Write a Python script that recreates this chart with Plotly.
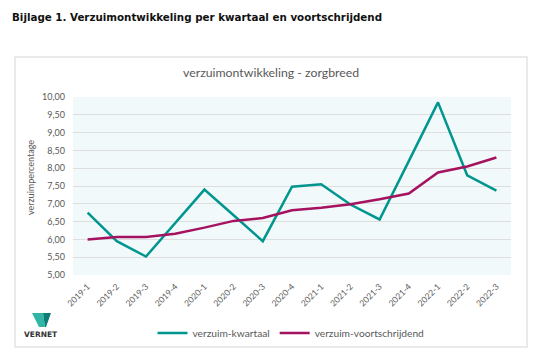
import plotly.graph_objects as go

categories = ["2019-1", "2019-2", "2019-3", "2019-4", "2020-1", "2020-2", "2020-3", "2020-4",
              "2021-1", "2021-2", "2021-3", "2021-4", "2022-1", "2022-2", "2022-3"]
kwartaal = [6.75, 5.95, 5.52, 6.45, 7.40, 6.68, 5.95, 7.48, 7.55, 6.98, 6.56, 8.20, 9.85, 7.80, 7.37]
voortschrijdend = [6.00, 6.07, 6.07, 6.16, 6.33, 6.52, 6.60, 6.82, 6.89, 6.99, 7.13, 7.29, 7.88, 8.05, 8.30]
y_ticks = [5.0, 5.5, 6.0, 6.5, 7.0, 7.5, 8.0, 8.5, 9.0, 9.5, 10.0]

OFF = 8  # page body margin
W, H = 545 - OFF, 355 - OFF
# plot area in reference (window) pixel coords
L, R, T, B = 73, 511, 97, 275


def px(x):
    return (x - L) / (R - L)


def py(y):
    return (B - y) / (B - T)


FONT = "Lato"
GRAY = "#595959"

fig = go.Figure()
fig.add_trace(go.Scatter(x=categories, y=kwartaal, mode="lines", name="verzuim-kwartaal",
                         line=dict(color="#00968f", width=2.5)))
fig.add_trace(go.Scatter(x=categories, y=voortschrijdend, mode="lines", name="verzuim-voortschrijdend",
                         line=dict(color="#a5125f", width=2.5)))

shapes = [
    # chart frame
    dict(type="rect", xref="paper", yref="paper", x0=px(15), x1=px(527), y0=py(347), y1=py(57),
         line=dict(color="#e3e3e3", width=1.5), fillcolor="rgba(0,0,0,0)", layer="below"),
    # logo
    dict(type="path", xref="paper", yref="paper",
         path=f"M {px(32)},{py(313)} L {px(43)},{py(313)} L {px(45)},{py(327)} L {px(39)},{py(327)} Z",
         fillcolor="#2fb6a4", line=dict(width=0)),
    dict(type="path", xref="paper", yref="paper",
         path=f"M {px(43)},{py(313)} L {px(51)},{py(313)} L {px(46)},{py(327)} L {px(45)},{py(327)} Z",
         fillcolor="#0d7d78", line=dict(width=0)),
]

annotations = [
    dict(text="<b>Bijlage 1. Verzuimontwikkeling per kwartaal en voortschrijdend</b>",
         x=px(10), y=py(17), xref="paper", yref="paper", xanchor="left", yanchor="middle",
         showarrow=False, font=dict(family="DejaVu Sans", size=10.3, color="#111111")),
    dict(text="verzuimontwikkeling - zorgbreed", x=px(271), y=py(73), xref="paper", yref="paper",
         xanchor="center", yanchor="middle", showarrow=False,
         font=dict(family=FONT, size=12.3, color=GRAY)),
    dict(text="verzuimpercentage", x=px(30), y=py(178), xref="paper", yref="paper",
         xanchor="center", yanchor="middle", textangle=-90, showarrow=False,
         font=dict(family=FONT, size=9, color=GRAY)),
    dict(text="<b>VERNET</b>", x=px(41), y=py(334), xref="paper", yref="paper",
         xanchor="center", yanchor="middle", showarrow=False,
         font=dict(family="DejaVu Sans", size=7.5, color="#333333")),
]

fig.update_layout(
    width=W, height=H,
    margin=dict(l=L - OFF, r=W - (R - OFF), t=T - OFF, b=H - (B - OFF), autoexpand=False),
    paper_bgcolor="white", plot_bgcolor="#f1f9fb",
    separators=",.",
    font=dict(family=FONT, color=GRAY),
    showlegend=True,
    legend=dict(orientation="h", x=px(291), xanchor="center", y=py(333), yanchor="middle",
                font=dict(family=FONT, size=10.2, color=GRAY), bgcolor="rgba(0,0,0,0)",
                itemwidth=30, tracegroupgap=0),
    shapes=shapes, annotations=annotations,
    xaxis=dict(type="category", range=[-0.5, len(categories) - 0.5], tickangle=-45,
               tickfont=dict(size=8.5, color=GRAY),
               showgrid=False, zeroline=False, showline=False, ticks="", automargin=False,
               ticklabelstandoff=4),
    yaxis=dict(range=[5, 10], tickvals=y_ticks, tickformat=".2f", tickfont=dict(size=9, color=GRAY),
               showgrid=True, gridcolor="#dedede", gridwidth=1, zeroline=False, showline=False,
               ticks="", ticklabelstandoff=7, automargin=False),
)

fig.write_html("out.html")
